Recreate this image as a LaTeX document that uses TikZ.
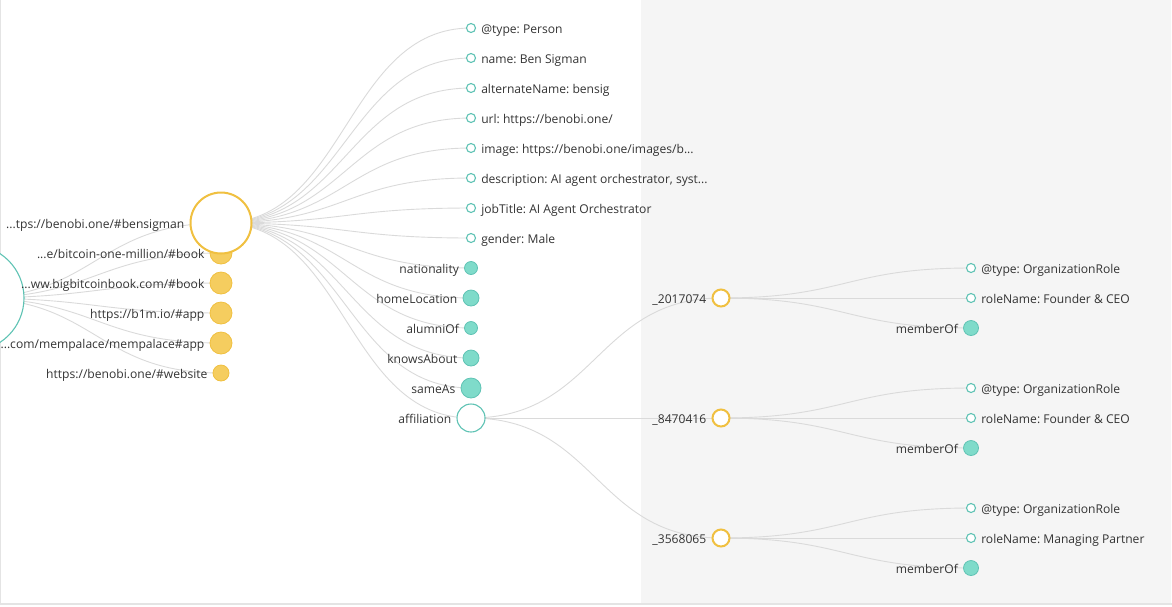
\documentclass[tikz,border=0pt]{standalone}
\usepackage{fontspec}
\setmainfont{Open Sans}
\usepackage{tikz}
\usetikzlibrary{calc, backgrounds}
\definecolor{JLYellow}{RGB}{245,205,95}
\definecolor{JLYellowLine}{RGB}{240,192,64}
\definecolor{JLTeal}{RGB}{127,219,202}
\definecolor{JLTealLine}{RGB}{95,195,180}
\definecolor{JLLink}{RGB}{218,218,218}
\definecolor{JLPanel}{RGB}{245,245,245}
\definecolor{JLFrame}{RGB}{228,228,228}
\definecolor{JLText}{RGB}{51,51,51}
\frenchspacing

\begin{document}
\begin{tikzpicture}[x=1pt, y=-1pt,
    lbl/.style={font=\fontsize{12.1}{14}\selectfont, text=JLText,
                inner sep=0pt, text height=10.6pt, text depth=0pt},
    every label/.style={lbl},
    label distance=5pt,
    leaf/.style={circle, draw=JLTealLine, line width=1.1pt, fill=white,
                 minimum size=9pt, inner sep=0pt},
    prop/.style={circle, draw=JLTealLine, line width=0.8pt, fill=JLTeal,
                 inner sep=0pt},
    hub/.style={circle, draw=JLTealLine, line width=1.1pt, fill=white,
                inner sep=0pt},
    ent/.style={circle, draw=JLYellowLine, line width=0.8pt, fill=JLYellow,
                inner sep=0pt},
    role/.style={circle, draw=JLYellowLine, line width=2pt, fill=white,
                 minimum size=17pt, inner sep=0pt},
    link/.style={draw=JLLink, line width=0.9pt,
                 to path={let \p1=(\tikztostart), \p2=(\tikztotarget) in
                   .. controls ({0.5*(\x1+\x2)},\y1) and ({0.5*(\x1+\x2)},\y2)
                   .. (\p2)}}
  ]
  \useasboundingbox (0,0) rectangle (1172,606);

  % graph root, cut off at the left edge
  \node[hub, minimum size=106pt] (graph) at (-29,298) {};

  % entities of the graph
  \node[ent, minimum size=22pt,
        label=left:{...e/bitcoin-one-million/\#book}] (book1) at (221,253) {};
  \node[ent, minimum size=22pt,
        label=left:{...ww.bigbitcoinbook.com/\#book}] (book2) at (221,283) {};
  \node[ent, minimum size=22pt,
        label=left:{https://b1m.io/\#app}] (app1) at (221,313) {};
  \node[ent, minimum size=22pt,
        label=left:{...com/mempalace/mempalace\#app}] (app2) at (221,343) {};
  \node[ent, minimum size=16pt,
        label=left:{https://benobi.one/\#website}] (site) at (221,373) {};
  \node[circle, draw=JLYellowLine, line width=2pt, fill=white,
        minimum size=61pt, inner sep=0pt,
        label=left:{...tps://benobi.one/\#bensigman}] (person) at (221,223) {};

  % properties of the person
  \node[leaf, label=right:{@type: Person}] (ptype) at (471,28) {};
  \node[leaf, label=right:{name: Ben Sigman}] (pname) at (471,58) {};
  \node[leaf, label=right:{alternateName: bensig}] (palt) at (471,88) {};
  \node[leaf, label=right:{url: https://benobi.one/}] (purl) at (471,118) {};
  \node[leaf, label=right:{image: https://benobi.one/images/b...}] (pimg) at (471,148) {};
  \node[leaf, label=right:{description: AI agent orchestrator, syst...}] (pdesc) at (471,178) {};
  \node[leaf, label=right:{jobTitle: AI Agent Orchestrator}] (pjob) at (471,208) {};
  \node[leaf, label=right:{gender: Male}] (pgender) at (471,238) {};
  \node[prop, minimum size=13pt, label=left:{nationality}] (pnat) at (471,268) {};
  \node[prop, minimum size=16pt, label=left:{homeLocation}] (phome) at (471,298) {};
  \node[prop, minimum size=13pt, label=left:{alumniOf}] (palum) at (471,328) {};
  \node[prop, minimum size=16pt, label=left:{knowsAbout}] (pknows) at (471,358) {};
  \node[prop, minimum size=20pt, label=left:{sameAs}] (psame) at (471,388) {};
  \node[hub, minimum size=28pt, label=left:{affiliation}] (paff) at (471,418) {};

  % organization roles
  \node[role, label=left:{\_2017074}] (roleA) at (721,298) {};
  \node[role, label=left:{\_8470416}] (roleB) at (721,418) {};
  \node[role, label=left:{\_3568065}] (roleC) at (721,538) {};

  \node[leaf, label=right:{@type: OrganizationRole}] (typeA) at (971,268) {};
  \node[leaf, label=right:{roleName: Founder \& CEO}] (nameA) at (971,298) {};
  \node[prop, minimum size=15pt, label=left:{memberOf}] (orgA) at (971,328) {};
  \node[leaf, label=right:{@type: OrganizationRole}] (typeB) at (971,388) {};
  \node[leaf, label=right:{roleName: Founder \& CEO}] (nameB) at (971,418) {};
  \node[prop, minimum size=15pt, label=left:{memberOf}] (orgB) at (971,448) {};
  \node[leaf, label=right:{@type: OrganizationRole}] (typeC) at (971,508) {};
  \node[leaf, label=right:{roleName: Managing Partner}] (nameC) at (971,538) {};
  \node[prop, minimum size=15pt, label=left:{memberOf}] (orgC) at (971,568) {};

  \begin{scope}[on background layer]
    % panel and frame
    \fill[JLPanel] (641,0) rectangle (1171,603.5);
    \draw[JLFrame, line width=1.5pt] (0.5,0) -- (0.5,604) -- (1172,604);

    % links
    \draw[link] (graph.center) to (person.center);
    \draw[link] (graph.center) to (book1.center);
    \draw[link] (graph.center) to (book2.center);
    \draw[link] (graph.center) to (app1.center);
    \draw[link] (graph.center) to (app2.center);
    \draw[link] (graph.center) to (site.center);

    \draw[link] (person.center) to (ptype.center);
    \draw[link] (person.center) to (pname.center);
    \draw[link] (person.center) to (palt.center);
    \draw[link] (person.center) to (purl.center);
    \draw[link] (person.center) to (pimg.center);
    \draw[link] (person.center) to (pdesc.center);
    \draw[link] (person.center) to (pjob.center);
    \draw[link] (person.center) to (pgender.center);
    \draw[link] (person.center) to (pnat.center);
    \draw[link] (person.center) to (phome.center);
    \draw[link] (person.center) to (palum.center);
    \draw[link] (person.center) to (pknows.center);
    \draw[link] (person.center) to (psame.center);
    \draw[link] (person.center) to (paff.center);

    \draw[link] (paff.center) to (roleA.center);
    \draw[link] (paff.center) to (roleB.center);
    \draw[link] (paff.center) to (roleC.center);

    \draw[link] (roleA.center) to (typeA.center);
    \draw[link] (roleA.center) to (nameA.center);
    \draw[link] (roleA.center) to (orgA.center);
    \draw[link] (roleB.center) to (typeB.center);
    \draw[link] (roleB.center) to (nameB.center);
    \draw[link] (roleB.center) to (orgB.center);
    \draw[link] (roleC.center) to (typeC.center);
    \draw[link] (roleC.center) to (nameC.center);
    \draw[link] (roleC.center) to (orgC.center);
  \end{scope}
\end{tikzpicture}
\end{document}
